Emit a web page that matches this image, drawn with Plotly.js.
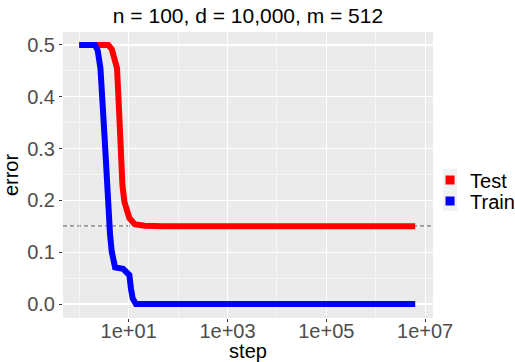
<!DOCTYPE html>
<html>
<head>
<meta charset="utf-8">
<script src="https://cdn.plot.ly/plotly-3.0.1.min.js"></script>
<style>html,body{margin:0;padding:0;background:#fff;}#chart{width:515px;height:362px;}</style>
</head>
<body>
<div id="chart"></div>
<script>
// Data
const testSteps = [1, 3.86, 4.54, 5.21, 5.81, 6.49, 6.99, 7.46, 8.19, 8.82, 10.3, 13.2, 21, 50, 100, 1000, 10000, 100000, 1000000, 6300000];
const testError = [0.5, 0.5, 0.492, 0.475, 0.455, 0.358, 0.262, 0.23, 0.197, 0.185, 0.166, 0.154, 0.151, 0.15, 0.15, 0.15, 0.15, 0.15, 0.15, 0.15];
const trainSteps = [1, 2.06, 2.35, 2.68, 3.23, 3.77, 4.2, 4.54, 4.95, 5.3, 7.7, 8.7, 10.3, 11.1, 12.0, 14.0, 100, 1000, 10000, 100000, 1000000, 6300000];
const trainError = [0.5, 0.5, 0.49, 0.455, 0.326, 0.197, 0.133, 0.101, 0.076, 0.0705, 0.068, 0.064, 0.056, 0.03, 0.011, 0.0, 0.0, 0.0, 0.0, 0.0, 0.0, 0.0];
const seriesNames = ['Test', 'Train'];
const seriesColors = ['#FF0000', '#0000FF'];
const refLevel = 0.15;
const xTickVals = [10, 1000, 100000, 10000000];
const xTickText = ['1e+01', '1e+03', '1e+05', '1e+07'];
const xMinorVals = [1, 100, 10000, 1000000];
const yTickVals = [0, 0.1, 0.2, 0.3, 0.4, 0.5];
const titleText = 'n = 100, d = 10,000, m = 512';

const FONT = 'Liberation Sans, Arial, sans-serif';
const seriesX = [testSteps, trainSteps];
const seriesY = [testError, trainError];
const legendIds = ['legend', 'legend2'];
const traces = [];
seriesY.forEach((ys, i) => {
  traces.push({
    x: seriesX[i], y: ys, type: 'scatter', mode: 'lines',
    line: {color: seriesColors[i], width: 6},
    showlegend: false, hoverinfo: 'skip'
  });
});
seriesY.forEach((ys, i) => {
  traces.push({
    x: [null], y: [null], type: 'scatter', mode: 'markers',
    name: seriesNames[i], legend: legendIds[i],
    marker: {symbol: 'square', size: 9, color: seriesColors[i]},
    showlegend: true
  });
});

const legendBase = {
  x: 0.992, xanchor: 'left', yanchor: 'middle',
  font: {family: FONT, size: 20, color: '#000000'},
  bgcolor: 'rgba(0,0,0,0)', itemwidth: 30, borderwidth: 0
};

const layout = {
  width: 515, height: 362,
  margin: {l: 63, r: 82, t: 32, b: 44, autoexpand: false},
  paper_bgcolor: '#FFFFFF',
  plot_bgcolor: '#EBEBEB',
  font: {family: FONT, color: '#000000', size: 20},
  title: {text: titleText, font: {family: FONT, size: 21, color: '#000000'},
          x: 0.5, xref: 'paper', xanchor: 'center', y: 0.958, yanchor: 'middle'},
  xaxis: {
    type: 'log', range: [-0.33, 7.16], automargin: false,
    tickmode: 'array', tickvals: xTickVals, ticktext: xTickText,
    tickfont: {family: FONT, size: 20, color: '#4D4D4D'},
    ticks: 'outside', ticklen: 3, tickcolor: '#333333', tickwidth: 1,
    ticklabelstandoff: -8,
    showgrid: true, gridcolor: '#FFFFFF', gridwidth: 1.1,
    minor: {tickmode: 'array', tickvals: xMinorVals, showgrid: true, gridcolor: '#FFFFFF', gridwidth: 0.55, ticks: ''},
    zeroline: false, showline: false,
    title: {text: 'step', font: {family: FONT, size: 20, color: '#000000'}, standoff: 0}
  },
  yaxis: {
    range: [-0.027, 0.525], automargin: false,
    tickmode: 'array', tickvals: yTickVals, tickformat: '.1f',
    tickfont: {family: FONT, size: 20, color: '#4D4D4D'},
    ticks: 'outside', ticklen: 3, tickcolor: '#333333', tickwidth: 1,
    showgrid: true, gridcolor: '#FFFFFF', gridwidth: 1.1,
    minor: {dtick: 0.05, showgrid: true, gridcolor: '#FFFFFF', gridwidth: 0.55, ticks: ''},
    zeroline: false, showline: false,
    title: {text: 'error', font: {family: FONT, size: 20, color: '#000000'}, standoff: 4}
  },
  shapes: [{
    type: 'line', xref: 'x domain', x0: 0, x1: 1, yref: 'y', y0: refLevel, y1: refLevel,
    line: {color: '#4D4D4D', width: 1.5, dash: '4px,3px'}, layer: 'below'
  }, {
    type: 'rect', xref: 'paper', yref: 'paper', x0: 1.027, x1: 1.065, y0: 0.374, y1: 0.521,
    fillcolor: '#F2F2F2', line: {width: 0}, layer: 'below'
  }],
  legend: Object.assign({}, legendBase, {y: 0.4825}),
  legend2: Object.assign({}, legendBase, {y: 0.409}),
  showlegend: true
};

Plotly.newPlot('chart', traces, layout, {displayModeBar: false, staticPlot: true});
</script>
</body>
</html>
